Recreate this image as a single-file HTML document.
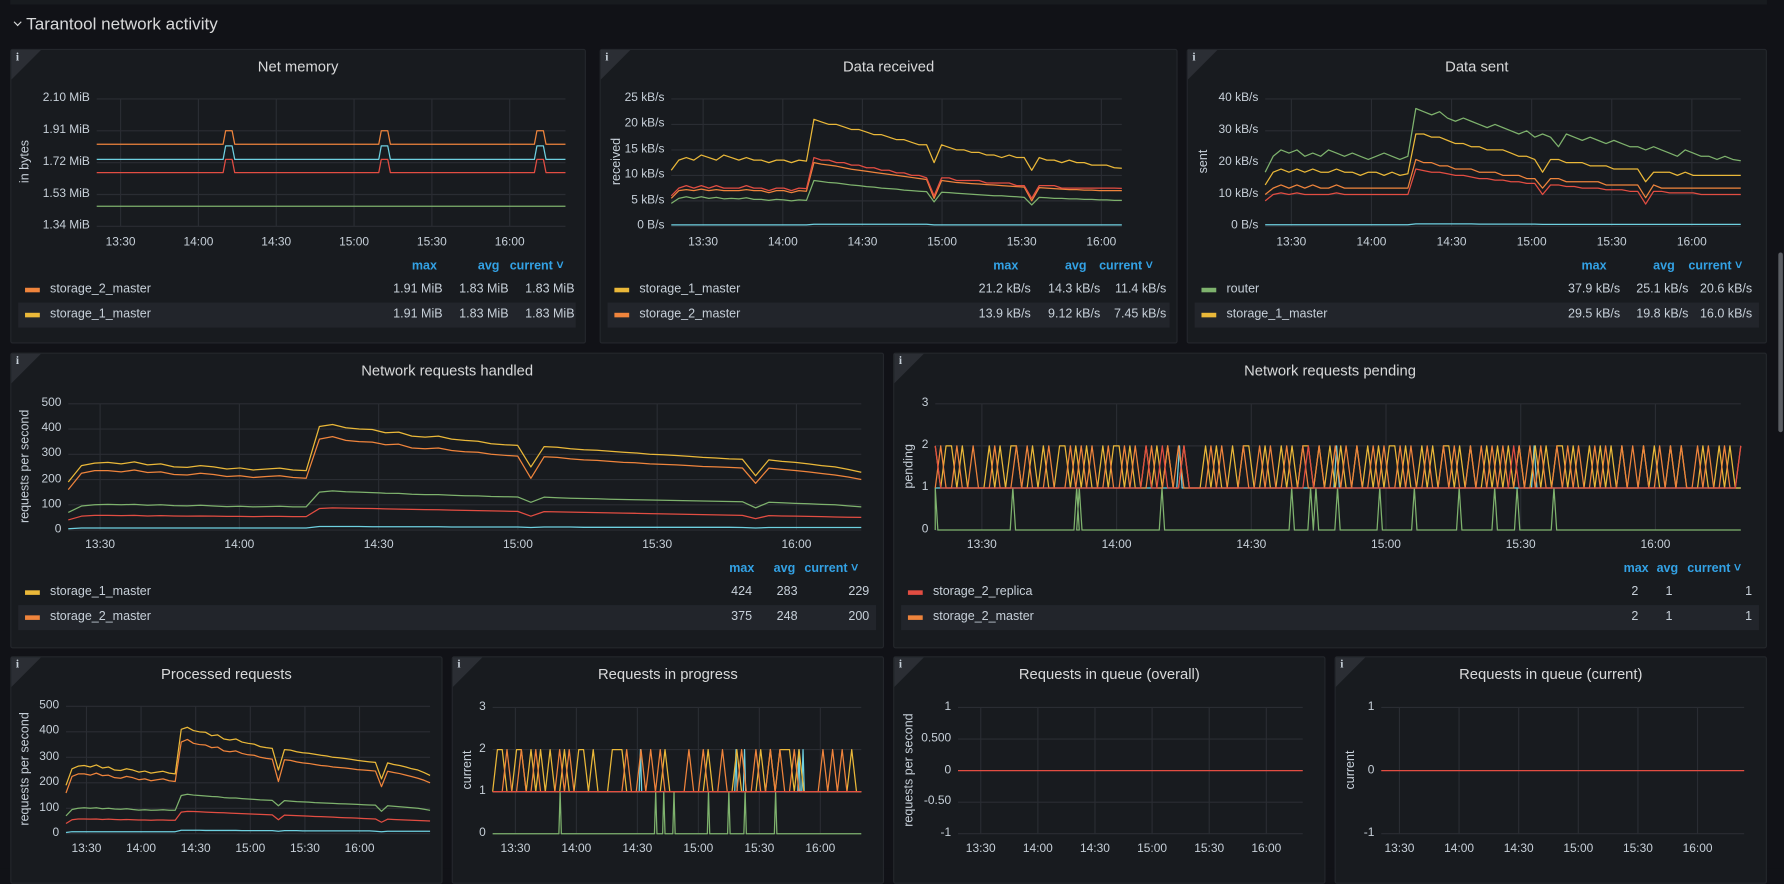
<!DOCTYPE html>
<html><head><meta charset="utf-8">
<style>
html,body{margin:0;padding:0;background:#111217;width:1784px;height:869px;overflow:hidden;font-family:"Liberation Sans",sans-serif;}
#root{position:absolute;left:0;top:0;width:1568px;height:764px;transform:scale(1.13776,1.13743);transform-origin:0 0;background:#111217;}
.panel{position:absolute;background:#181b1f;border:1px solid #24272c;border-radius:2px;box-sizing:border-box;}
.ptitle{position:absolute;left:0;right:0;top:7px;text-align:center;color:#d8d9da;font-size:13px;}
.info{position:absolute;left:0;top:0;width:0;height:0;border-top:26px solid #2b2e34;border-right:26px solid transparent;}
.infoi{position:absolute;left:4px;top:1px;color:#c7d0d9;font-size:10px;font-family:"Liberation Serif",serif;font-weight:bold;}
.t{position:absolute;color:#c7d0d9;font-size:10.5px;white-space:nowrap;}
.lh{position:absolute;color:#33a2e5;font-size:11px;font-weight:bold;white-space:nowrap;}
.lrow{position:absolute;height:22px;}
.lrow.hl{background:#22252b;}
.sw{position:absolute;width:13px;height:4px;top:9px;}
#chart{position:absolute;left:0;top:0;}
.chev{position:absolute;left:13px;top:17px;width:4px;height:4px;border-right:1.3px solid #d8d9da;border-bottom:1.3px solid #d8d9da;transform:rotate(45deg);}
</style></head>
<body>
<div id="root">
  <div style="position:absolute;left:9px;top:0;width:1544px;height:4px;background:#181b1f;"></div>
  <div class="chev"></div>
  <div style="position:absolute;left:23px;top:13px;color:#d8d9da;font-size:15px;">Tarantool network activity</div>
  <div style="position:absolute;left:1563px;top:222px;width:4px;height:158px;background:#5a5d63;border-radius:2px;"></div>
</div>
<script>
// ---------- data ----------
const timeTickVals=[810,840,870,900,930,960];
const timeTickLabels=['13:30','14:00','14:30','15:00','15:30','16:00'];

const memTicks=[1.34,1.53,1.72,1.91,2.10];
const memTimes=[790,849.5,850.5,853,854,909.5,910.5,913,914,969.5,970.5,973,974,1000];
const memOrange=[1.83,1.83,1.91,1.91,1.83,1.83,1.91,1.91,1.83,1.83,1.91,1.91,1.83,1.83];
const memCyan=[1.74,1.74,1.82,1.82,1.74,1.74,1.82,1.82,1.74,1.74,1.82,1.82,1.74,1.74];
const memRed=[1.66,1.66,1.74,1.74,1.66,1.66,1.74,1.74,1.66,1.66,1.74,1.74,1.66,1.66];
const memGreen=[1.46,1.46,1.46,1.46,1.46,1.46,1.46,1.46,1.46,1.46,1.46,1.46,1.46,1.46];

const recvTicks=[0,5,10,15,20,25];
const recvYellow=[11,13,13.5,13,14,13.5,13,14,13.5,13,13.5,13,13,12.5,13,13,12.5,13,12.8,21,20.5,20,20,19.5,19,19,18.5,18,18,17.5,17,17,16.5,16,16,12.5,16,15.5,15,15,14.5,14.5,14,14,13.5,14,13.5,13.5,11,13.5,13,13,12.5,13,12.5,12.5,12,12,12,11.5,11.4];
const recvRed=[6,7.5,8,7.5,8,7.5,8,7.5,7.5,7.5,8,7.5,7.5,7,7.5,7.5,7,7.5,7.4,13.5,13,13,12.5,12.5,12,12,11.5,11.5,11,11,10.5,10.5,10,10,9.5,6,9.5,9.5,9,9,9,9,8.5,8.5,8.5,8.5,8,8,5.5,8,8,8,7.5,7.5,7.5,7.5,7.5,7.5,7.5,7.5,7.45];
const recvOrange=[5.5,7,7.2,7,7.3,7,7.2,7,7,7,7.2,7,7,6.6,7,7,6.6,7,6.9,12.5,12.2,12,11.8,11.5,11.2,11,10.8,10.6,10.4,10.2,10,9.8,9.6,9.4,9.2,5.5,9,8.8,8.6,8.5,8.4,8.3,8.2,8.1,8,7.9,7.8,7.7,5,7.6,7.5,7.4,7.3,7.2,7.2,7.1,7.1,7,7,7,7];
const recvGreen=[4.5,5.5,5.8,5.5,5.8,5.5,5.7,5.4,5.5,5.4,5.6,5.3,5.3,5.1,5.3,5.2,5,5.2,5.1,9,8.8,8.6,8.5,8.3,8.1,8,7.8,7.7,7.5,7.4,7.3,7.1,7,6.9,6.8,4.8,6.7,6.6,6.5,6.4,6.3,6.2,6.1,6,6,5.9,5.8,5.7,4.2,5.7,5.6,5.5,5.5,5.4,5.4,5.3,5.3,5.2,5.2,5.1,5.1];
const recvCyan=[0.3,0.3,0.3,0.3,0.3,0.3,0.3,0.3,0.3,0.3,0.3,0.3,0.3,0.3,0.3,0.3,0.3,0.3,0.3,0.4,0.4,0.4,0.4,0.4,0.4,0.4,0.4,0.4,0.4,0.4,0.4,0.4,0.4,0.4,0.4,0.3,0.3,0.3,0.3,0.3,0.3,0.3,0.3,0.3,0.3,0.3,0.3,0.3,0.3,0.3,0.3,0.3,0.3,0.3,0.3,0.3,0.3,0.3,0.3,0.3,0.3];

const sentTicks=[0,10,20,30,40];
const sentGreen=[17,22,24,23,24,22,23,22,24,23,22,23,22,21,22,23,22,21,22,37,36,35,36,34,33,34,33,32,31,32,31,30,29,30,28,29,28,25,29,28,27,28,27,26,27,26,25,25,24,25,24,23,22,24,23,22,22,21,22,21,20.6];
const sentYellow=[13,17,18,17,18,17,18,17,17,18,17,17,16,17,17,16,17,16,16.5,29,29,28,28,27,26,26,25,25,24,24,24,23,22,22,21,17,21,21,20,20,20,19,19,19,18,18,18,18,14,17,17,17,16,17,16,16,16,16,16,16,16];
const sentOrange=[10,12,13,12,13,12,13,12,12,13,12,12,12,12,12,12,12,12,12,21,20,20,19,19,18,18,18,17,17,17,16,16,16,15,15,12,15,15,14,14,14,14,14,13,13,13,13,13,9,13,12,12,12,12,12,12,12,12,12,12,12];
const sentRed=[8,10,10.5,10,10.5,10,10,10,10,10.5,10,10,10,10,10,10,10,10,10,18,17.5,17,17,16.5,16,16,15.5,15,15,14.5,14.5,14,14,13.5,13.5,10,13,13,12.5,12.5,12,12,12,11.5,11.5,11.5,11,11,7,11,11,10.5,10.5,10.5,10.5,10,10,10,10,10,10];
const sentCyan=[0.5,0.5,0.5,0.5,0.5,0.5,0.5,0.5,0.5,0.5,0.5,0.5,0.5,0.5,0.5,0.5,0.5,0.5,0.5,0.8,0.8,0.8,0.8,0.8,0.8,0.8,0.8,0.7,0.7,0.7,0.7,0.7,0.7,0.7,0.7,0.6,0.6,0.6,0.6,0.6,0.6,0.6,0.6,0.6,0.6,0.6,0.6,0.6,0.6,0.6,0.6,0.6,0.6,0.6,0.6,0.6,0.6,0.6,0.6,0.6,0.6];

const reqTicks=[0,100,200,300,400,500];
const reqYellow=[190,255,265,268,262,270,258,262,250,248,255,250,242,246,238,242,245,238,235,410,418,405,400,398,385,388,372,368,372,360,355,352,342,338,335,250,330,328,322,318,316,312,308,305,300,298,295,292,288,285,282,280,215,278,272,268,262,255,250,240,229];
const reqOrange=[160,225,235,235,230,238,228,230,220,218,225,220,212,215,208,212,215,208,205,360,370,355,350,348,338,340,325,322,325,315,310,308,300,296,293,205,290,288,282,278,276,272,268,266,262,260,258,255,252,250,248,246,185,245,240,236,230,224,218,210,200];
const reqGreen=[70,95,100,102,100,102,98,100,97,96,98,95,93,94,92,93,94,92,92,150,155,152,150,148,146,145,142,140,140,138,136,135,133,132,131,110,130,128,126,125,124,122,121,120,119,118,117,116,115,114,113,112,88,110,108,106,104,102,100,96,92];
const reqRed=[40,55,58,58,57,58,56,57,56,55,56,55,54,54,53,54,54,53,53,85,88,87,86,85,84,83,82,81,80,79,78,77,76,75,74,55,73,72,71,70,69,68,67,66,65,64,63,62,61,60,59,58,45,57,56,55,54,53,52,51,50];
const reqCyan=[5,8,8,8,8,8,8,8,8,8,8,8,8,8,8,8,8,8,8,14,14,14,14,13,13,13,13,13,13,12,12,12,12,12,12,10,12,12,12,11,11,11,11,11,11,11,11,11,11,11,11,10,8,10,10,10,10,10,10,10,10];

const pendTicks=[0,1,2,3];
const pendYellow=[2,1,2,2,1,2,1,1,1,1,2,1,2,1,2,2,1,1,2,1,2,1,1,2,2,1,2,1,2,1,1,2,1,2,2,1,2,1,1,2,1,2,1,2,1,1,2,1,1,1,2,1,2,1,1,2,1,2,2,1,1,2,1,1,2,1,2,1,2,2,1,2,1,2,1,2,1,1,2,1,2,1,2,1,2,2,1,2,1,1,2,1,2,1,2,2,1,2,1,2,1,1,2,1,2,1,2,1,2,1,1,2,1,2,1,2,2,1,2,1,1,2,1,2,1,2,1,2,1,1,1,2,1,2,1,1,2,1,2,1,1,1,2,1,1,2,1,2,1,1];
const pendOrange=[1,2,1,1,2,1,1,2,1,1,1,2,1,1,1,2,1,2,1,1,1,2,1,1,1,2,1,2,1,2,1,1,2,1,1,2,1,2,1,1,2,1,1,2,1,2,1,1,1,1,1,2,1,2,1,1,1,2,1,1,2,1,2,1,1,2,1,1,2,1,1,2,1,1,2,1,2,1,2,1,1,2,1,2,1,1,2,1,2,1,1,2,1,1,2,1,2,1,1,2,1,2,1,2,1,2,1,1,2,1,2,1,2,1,1,2,1,2,1,2,1,1,2,1,2,1,1,2,1,2,1,2,1,1,2,1,2,1,2,1,1,2,1,2,1,1,2,1,1,2];
const pendRed=[2,1,1,1,1,1,1,1,1,1,1,1,1,1,1,1,1,1,1,1,1,1,1,1,1,1,1,1,1,1,1,1,1,1,1,1,1,1,1,2,1,1,2,1,1,1,2,1,1,1,1,1,1,1,1,1,1,1,1,1,1,1,1,1,1,1,1,1,1,2,1,1,1,1,1,1,1,1,1,1,1,1,1,1,1,1,1,1,1,1,1,1,1,1,1,1,1,1,1,1,1,1,1,1,1,1,1,2,1,1,1,1,1,1,1,1,1,1,1,1,1,1,1,1,1,1,1,1,1,1,1,1,1,1,1,1,1,1,1,1,1,1,1,1,1,1,1,1,1,2];
const pendCyanSpikes=[854,889,933];
const pendGreenSpikes=[799.6,816.9,831.1,831.7,850.1,879,883.2,884.4,889.2,898.6,906.3,916.3,924.2,929.2,937.4];

const progYellow=[1,2,2,1,1,2,2,1,2,1,2,1,2,1,1,2,1,1,2,2,1,2,1,1,1,2,2,2,1,1,1,1,1,1,1,1,2,1,1,1,1,1,1,1,1,2,1,1,1,1,1,2,1,1,1,1,2,1,2,1,2,2,2,1,2,1,1,1,1,1,1,1,1,1,1,2,1,1];
const progOrange=[1,1,1,2,1,1,2,1,1,2,1,1,1,1,2,1,2,1,1,1,1,1,1,1,1,1,1,1,2,1,1,2,1,2,1,2,1,1,1,1,1,2,1,1,2,1,1,1,2,1,1,1,2,1,1,2,1,1,2,1,2,1,1,2,1,1,1,1,1,2,1,2,1,2,1,1,1,1];
const progRed=[1,1,1,1,1,1,1,1,1,1];
const progCyanSpikes=[871.5,918.5,922.7,949.5,951.5];
const progGreenSpikes=[832,879,883,888,905,915,923,938];

const zeroTicks=[-1,-0.5,0,0.5,1];
const zeroTicks2=[-1,0,1];
const zeroSeries=[0,0,0,0,0,0,0,0,0,0];

const C={g:'#7eb26d',y:'#eab839',c:'#6ed0e0',o:'#ef843c',r:'#e24d42'};

function spikeSeries(spikes,base,top,t0,t1){
  const pts=[[t0,base]];
  spikes.slice().sort((a,b)=>a-b).forEach(s=>{pts.push([s-0.6,base]);pts.push([s,top]);pts.push([s+0.6,base]);});
  pts.push([t1,base]);return pts;
}

const panels=[
 {name:'net-memory',x:9,y:43,w:506,h:259,title:'Net memory',px0:85,px1:497,py0:87,py1:199,x1330:106,x1600:448,tickY:207,ticks:memTicks,fmt:v=>v.toFixed(2)+' MiB',ylabel:'in bytes',ylx:22,
  series:[{t:memTimes,v:memGreen,c:C.g},{t:memTimes,v:memRed,c:C.r},{t:memTimes,v:memCyan,c:C.c},{t:memTimes,v:memOrange,c:C.o}],
  lh:{y:228,cols:[362,420,448]},rows:{x:16,w:490,y:244,names:['storage_2_master','storage_1_master'],cols:[C.o,C.y],vals:[['1.91 MiB','1.83 MiB','1.83 MiB'],['1.91 MiB','1.83 MiB','1.83 MiB']],vx:[389,447,505]}},
 {name:'data-received',x:527,y:43,w:508,h:259,title:'Data received',px0:590,px1:986,py0:87,py1:199,x1330:618,x1600:968,tickY:207,ticks:recvTicks,fmt:v=>v+(v?' kB/s':' B/s'),ylabel:'received',ylx:542,
  series:[{v:recvCyan,c:C.c},{v:recvGreen,c:C.g},{v:recvOrange,c:C.o},{v:recvRed,c:C.r},{v:recvYellow,c:C.y}],
  lh:{y:228,cols:[873,936,966]},rows:{x:534,w:494,y:244,names:['storage_1_master','storage_2_master'],cols:[C.y,C.o],vals:[['21.2 kB/s','14.3 kB/s','11.4 kB/s'],['13.9 kB/s','9.12 kB/s','7.45 kB/s']],vx:[906,967,1025]}},
 {name:'data-sent',x:1043,y:43,w:510,h:259,title:'Data sent',px0:1112,px1:1530,py0:87,py1:199,x1330:1135,x1600:1487,tickY:207,ticks:sentTicks,fmt:v=>v+(v?' kB/s':' B/s'),ylabel:'sent',ylx:1058,
  series:[{v:sentCyan,c:C.c},{v:sentRed,c:C.r},{v:sentOrange,c:C.o},{v:sentYellow,c:C.y},{v:sentGreen,c:C.g}],
  lh:{y:228,cols:[1390,1453,1484]},rows:{x:1050,w:496,y:244,names:['router','storage_1_master'],cols:[C.g,C.y],vals:[['37.9 kB/s','25.1 kB/s','20.6 kB/s'],['29.5 kB/s','19.8 kB/s','16.0 kB/s']],vx:[1424,1484,1540]}},
 {name:'network-requests-handled',x:9,y:310,w:768,h:260,title:'Network requests handled',px0:60,px1:757,py0:355,py1:466,x1330:88,x1600:700,tickY:473,ticks:reqTicks,fmt:v=>''+v,ylabel:'requests per second',ylx:22,
  series:[{v:reqCyan,c:C.c},{v:reqRed,c:C.r},{v:reqGreen,c:C.g},{v:reqOrange,c:C.o},{v:reqYellow,c:C.y}],
  lh:{y:494,cols:[641,680,707]},rows:{x:16,w:754,y:510,names:['storage_1_master','storage_2_master'],cols:[C.y,C.o],vals:[['424','283','229'],['375','248','200']],vx:[661,701,764]}},
 {name:'network-requests-pending',x:785,y:310,w:768,h:260,title:'Network requests pending',px0:822,px1:1530,py0:355,py1:466,x1330:863,x1600:1455,tickY:473,ticks:pendTicks,fmt:v=>''+v,ylabel:'pending',ylx:799,
  series:[{pts:spikeSeries(pendGreenSpikes,0,1,797,1000),c:C.g},{pts:spikeSeries(pendCyanSpikes,1,2,797,1000),c:C.c},{v:pendYellow,c:C.y},{v:pendOrange,c:C.o},{v:pendRed,c:C.r}],
  lh:{y:494,cols:[1427,1456,1483]},rows:{x:792,w:754,y:510,names:['storage_2_replica','storage_2_master'],cols:[C.r,C.o],vals:[['2','1','1'],['2','1','1']],vx:[1440,1470,1540]}},
 {name:'processed-requests',x:9,y:577,w:380,h:200,title:'Processed requests',px0:58,px1:378,py0:621,py1:733,x1330:76,x1600:316,tickY:740,ticks:reqTicks,fmt:v=>''+v,ylabel:'requests per second',ylx:22,
  series:[{v:reqCyan,c:C.c},{v:reqRed,c:C.r},{v:reqGreen,c:C.g},{v:reqOrange,c:C.o},{v:reqYellow,c:C.y}]},
 {name:'requests-in-progress',x:397,y:577,w:380,h:200,title:'Requests in progress',px0:433,px1:757,py0:622,py1:733,x1330:453,x1600:721,tickY:740,ticks:pendTicks,fmt:v=>''+v,ylabel:'current',ylx:411,
  series:[{pts:spikeSeries(progGreenSpikes,0,1,797,1000),c:C.g},{pts:spikeSeries(progCyanSpikes,1,2,797,1000),c:C.c},{v:progYellow,c:C.y},{v:progOrange,c:C.o},{v:progRed,c:C.r}]},
 {name:'requests-in-queue-overall',x:785,y:577,w:380,h:200,title:'Requests in queue (overall)',px0:842,px1:1145,py0:622,py1:733,x1330:862,x1600:1113,tickY:740,ticks:zeroTicks,fmt:v=>v==0.5?'0.500':v==-0.5?'-0.50':''+v,ylabel:'requests per second',ylx:799,
  series:[{v:zeroSeries,c:C.r}]},
 {name:'requests-in-queue-current',x:1173,y:577,w:380,h:200,title:'Requests in queue (current)',px0:1214,px1:1533,py0:622,py1:733,x1330:1230,x1600:1492,tickY:740,ticks:zeroTicks2,fmt:v=>''+v,ylabel:'current',ylx:1187,
  series:[{v:zeroSeries,c:C.r}]}
];

const root=document.getElementById('root');
const NS='http://www.w3.org/2000/svg';
function div(cls,parent,css,text){const d=document.createElement('div');if(cls)d.className=cls;if(css)d.style.cssText=css;if(text!=null)d.textContent=text;parent.appendChild(d);return d;}

panels.forEach(p=>{
  const el=div('panel',root,`left:${p.x}px;top:${p.y}px;width:${p.w}px;height:${p.h}px;`);
  
  
  const inf=div('info',el);
  
  
  const ii=div('infoi',el,null,'i');
  
  
  const tt=div('ptitle',el,null,p.title);
  
  
});

const svg=document.createElementNS(NS,'svg');
svg.setAttribute('id','chart');svg.setAttribute('width','1568');svg.setAttribute('height','764');


root.appendChild(svg);

function sv(tag,attrs){const e=document.createElementNS(NS,tag);for(const k in attrs)e.setAttribute(k,attrs[k]);svg.appendChild(e);return e;}

panels.forEach(p=>{
  const pxPerMin=(p.x1600-p.x1330)/150;
  const xOf=t=>p.x1330+(t-810)*pxPerMin;
  const tStart=810-(p.x1330-p.px0)/pxPerMin, tEnd=810+(p.px1-p.x1330)/pxPerMin;
  const yMin=p.ticks[0], yMax=p.ticks[p.ticks.length-1];
  const yOf=v=>p.py1-(v-yMin)/(yMax-yMin)*(p.py1-p.py0);
  p.ticks.forEach(v=>{
    const g=sv('line',{x1:p.px0,x2:p.px1,y1:yOf(v),y2:yOf(v),stroke:'#2a2d33','stroke-width':1});
    
    
    const l=div('t',root,`right:${1568-(p.px0-6)}px;top:${yOf(v)-7}px;`,p.fmt(v));
    
    
  });
  timeTickVals.forEach((t,i)=>{
    const g=sv('line',{x1:xOf(t),x2:xOf(t),y1:p.py0,y2:p.py1,stroke:'#2a2d33','stroke-width':1});
    
    
    const l=div('t',root,`left:${xOf(t)-16}px;width:32px;text-align:center;top:${p.tickY}px;`,timeTickLabels[i]);
    
    
  });
  const cy=(p.py0+p.py1)/2;
  const yt=div('t',root,`left:${p.ylx-60}px;top:${cy-7}px;width:120px;text-align:center;transform:rotate(-90deg);font-size:11px;`,p.ylabel);
  
  
  p.series.forEach(s=>{
    let pts;
    if(s.pts) pts=s.pts;
    else if(s.t) pts=s.t.map((t,i)=>[t,s.v[i]]);
    else { const n=s.v.length; pts=s.v.map((v,i)=>[tStart+i*(tEnd-tStart)/(n-1),v]); }
    const d=pts.map(([t,v])=>[Math.max(p.px0,Math.min(p.px1,xOf(t))),yOf(v)]).map((q,i)=>(i?'L':'M')+q[0].toFixed(1)+' '+q[1].toFixed(1)).join('');
    const path=sv('path',{d:d,fill:'none',stroke:s.c,'stroke-width':1.1,'stroke-linejoin':'round'});
    
    
  });
  if(p.lh){
    ['max','avg','current \u02c5'].forEach((h,i)=>{
      const e=div('lh',root,`left:${p.lh.cols[i]}px;top:${p.lh.y}px;`,h);
      
      
    });
    const r=p.rows;
    r.names.forEach((nm,i)=>{
      const row=div('lrow'+(i==1?' hl':''),root,`left:${r.x}px;top:${r.y+i*22}px;width:${r.w}px;`);
      
      
      const sw=div('sw',row,`left:6px;background:${r.cols[i]};`);
      
      
      const nl=div('t',row,`left:28px;top:4px;font-size:11px;`,nm);
      
      
      r.vals[i].forEach((v,j)=>{
        const vl=div('t',row,`right:${r.w-(r.vx[j]-r.x)}px;top:4px;font-size:11px;`,v);
        
        
      });
    });
  }
});
</script>
</body></html>
